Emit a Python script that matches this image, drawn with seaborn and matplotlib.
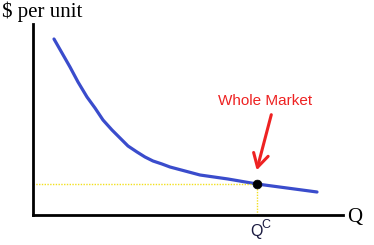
import matplotlib
matplotlib.use("Agg")
import matplotlib.pyplot as plt
import seaborn as sns
import pandas as pd

# Demand-like curve (x: quantity, y: $ per unit)
q_vals = [21, 29, 37, 45, 54, 62, 70, 79, 87, 95, 104, 112, 120, 129, 137,
          167, 195, 224, 254, 284]
p_vals = [176, 162, 148, 133, 118, 107, 95, 85, 77, 69, 63, 58, 54, 51, 48,
          40, 36, 31, 27, 23]
# Whole market point
qc = [224]
pc = [31]

sns.set_theme(style="white")
plt.rcParams['font.family'] = ['Liberation Sans', 'DejaVu Sans']

W, H = 374, 245
fig = plt.figure(figsize=(W / 100, H / 100), dpi=100)
ax = fig.add_axes([33 / W, 30 / H, 310 / W, 191 / H])

df = pd.DataFrame({"Q": q_vals, "P": p_vals})
sns.lineplot(data=df, x="Q", y="P", ax=ax, color="#3a4ccc", lw=2.3, sort=True)

# dotted guides
ax.plot([0, qc[0]], [pc[0], pc[0]], color="#f2e020", lw=1.0, ls=(0, (1, 1)))
ax.plot([qc[0], qc[0]], [0, pc[0]], color="#f2e020", lw=1.0, ls=(0, (1, 1)))

sns.scatterplot(x=qc, y=pc, ax=ax, color="black", s=40, zorder=5, edgecolor="black")

ax.set_xlim(0, 310)
ax.set_ylim(0, 191)
ax.set_xticks([])
ax.set_yticks([])
ax.set_xlabel("")
ax.set_ylabel("")
for s in ["top", "right"]:
    ax.spines[s].set_visible(False)
for s in ["left", "bottom"]:
    ax.spines[s].set_color("black")
    ax.spines[s].set_linewidth(2.0)

# annotation
ax.annotate("", xy=(223, 42), xytext=(239, 103),
            arrowprops=dict(arrowstyle="->,head_length=0.8,head_width=0.45",
                            color="#ee2222", lw=2.2), annotation_clip=False)
fig.text(265.5 / W, 1 - 105 / H, "Whole Market", color="#ee2222", fontsize=11,
         ha="center", va="baseline", family=["Liberation Sans"])

fig.text(2 / W, 1 - 17 / H, "$ per unit", fontsize=15, ha="left",
         va="baseline", family=["Liberation Serif"], color="black")
fig.text(347 / W, 1 - 222 / H, "Q", fontsize=15, ha="left",
         va="baseline", family=["Liberation Serif"], color="black")
fig.text(250 / W, 1 - 236 / H, "Q", fontsize=11.5, ha="left",
         va="baseline", family=["Liberation Sans"], color="#1a1a40")
fig.text(261.5 / W, 1 - 228 / H, "C", fontsize=9, ha="left",
         va="baseline", family=["Liberation Sans"], color="#1a1a40")

fig.savefig("out.png", dpi=100)
